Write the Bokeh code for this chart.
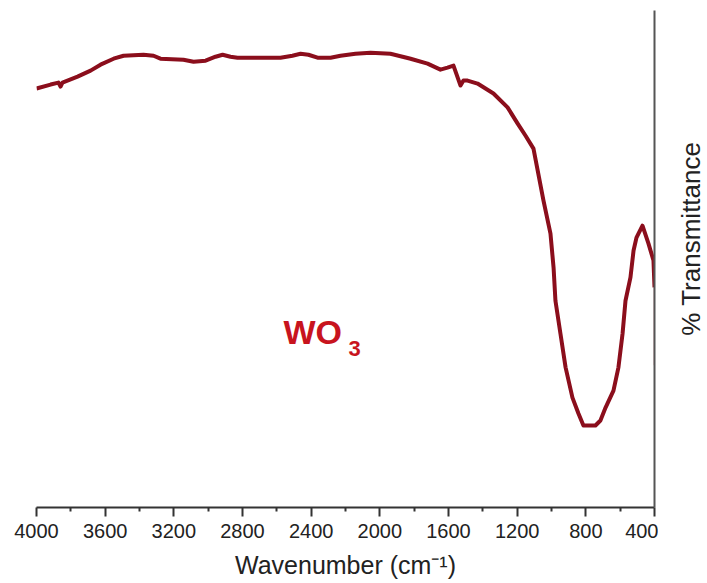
import math
from bokeh.plotting import figure
from bokeh.layouts import row
from bokeh.models import Range1d, Label, FixedTicker
from bokeh.embed import file_html
from bokeh.resources import INLINE

# ---- data ----
wavenumber = [4000, 3918, 3872, 3860, 3849, 3761, 3685, 3627, 3551, 3493, 3377, 3318,
              3278, 3144, 3085, 3015, 2957, 2916, 2870, 2829, 2695, 2579, 2509, 2462,
              2416, 2363, 2287, 2229, 2142, 2054, 1938, 1821, 1722, 1647, 1606, 1571,
              1530, 1513, 1489, 1431, 1338, 1256, 1198, 1151, 1105, 1047, 1006, 988,
              977, 948, 918, 878, 843, 814, 744, 715, 685, 639, 610, 586, 569, 540,
              522, 505, 470, 435, 406, 400]
transmittance = [84.3, 85.1, 85.5, 84.7, 85.5, 86.7, 87.9, 89.1, 90.3, 90.9, 91.1, 90.9,
                 90.3, 90.1, 89.7, 89.9, 90.7, 91.1, 90.7, 90.5, 90.5, 90.5, 90.9, 91.3,
                 91.1, 90.5, 90.5, 90.9, 91.3, 91.5, 91.3, 90.3, 89.3, 88.1, 88.5, 88.9,
                 84.9, 85.9, 85.9, 85.3, 83.3, 80.5, 77.3, 74.8, 72.2, 61.8, 55.1, 48.3,
                 41.6, 35.0, 28.2, 22.1, 18.9, 16.5, 16.5, 17.5, 20.1, 23.5, 28.2, 35.0,
                 41.6, 46.3, 51.7, 54.3, 56.7, 53.1, 49.7, 44.3]
tail_wavenumber = [400, 400]
tail_transmittance = [44.3, 28.6]

major_ticks = [4000, 3600, 3200, 2800, 2400, 2000, 1600, 1200, 800, 400]
minor_ticks = [3800, 3400, 3000, 2600, 2200, 1800, 1400, 1000, 600]

LINE = "#8B0E1C"
TEXT_RED = "#C8141E"
FONT = "Liberation Sans"

p = figure(width=658, height=583,
           x_range=Range1d(4000, 400), y_range=Range1d(0, 100),
           output_backend="svg", toolbar_location=None,
           y_axis_location="right",
           min_border_left=36, min_border_right=4,
           min_border_top=10, min_border_bottom=76)
p.outline_line_color = None
p.xgrid.visible = False
p.ygrid.visible = False
p.background_fill_color = "white"
p.border_fill_color = "white"

p.line(wavenumber, transmittance, line_color=LINE, line_width=4, line_join="round")
p.line(tail_wavenumber, tail_transmittance, line_color="#C9707A", line_width=1.5)

xa = p.xaxis[0]
xa.ticker = FixedTicker(ticks=major_ticks, minor_ticks=minor_ticks)
xa.axis_line_color = "#333333"
xa.axis_line_width = 2
xa.major_tick_line_color = "#333333"
xa.major_tick_line_width = 2
xa.minor_tick_line_color = "#333333"
xa.minor_tick_line_width = 2
xa.major_tick_in = 0
xa.major_tick_out = 9
xa.minor_tick_in = 0
xa.minor_tick_out = 4
xa.major_label_text_font = FONT
xa.major_label_text_font_size = "20px"
xa.major_label_text_color = "#222222"
xa.major_label_standoff = 7
xa.axis_label = "Wavenumber (cm\u207b\u00b9)"
xa.axis_label_text_font = FONT
xa.axis_label_text_font_size = "25px"
xa.axis_label_text_font_style = "normal"
xa.axis_label_text_color = "#222222"
xa.axis_label_standoff = 10

ya = p.yaxis[0]
ya.ticker = FixedTicker(ticks=[])
ya.axis_line_color = "#555555"
ya.axis_line_width = 2
ya.major_tick_out = 0
ya.minor_tick_out = 0
ya.major_tick_in = 0
ya.minor_tick_in = 0

p.add_layout(Label(x=2561, y=35.4, text="WO", text_align="left",
                   text_baseline="middle", text_font=FONT,
                   text_font_size="34px", text_font_style="bold",
                   text_color=TEXT_RED))
p.add_layout(Label(x=2183, y=31.9, text="3", text_align="left",
                   text_baseline="middle", text_font=FONT,
                   text_font_size="22px", text_font_style="bold",
                   text_color=TEXT_RED))

# side strip holding the y-axis title (reads bottom to top, right of the axis line)
q = figure(width=49, height=583, x_range=Range1d(0, 1), y_range=Range1d(0, 1),
           output_backend="svg", toolbar_location=None,
           x_axis_location=None, y_axis_location=None,
           min_border_left=0, min_border_right=0,
           min_border_top=0, min_border_bottom=0)
q.outline_line_color = None
q.xgrid.visible = False
q.ygrid.visible = False
q.background_fill_color = "white"
q.border_fill_color = "white"
q.add_layout(Label(x=0.673, y=0.541, text="% Transmittance", angle=math.pi / 2,
                   text_align="center", text_baseline="middle",
                   text_font=FONT, text_font_size="26px", text_color="#222222"))

layout = row(p, q, spacing=0)
open("out.html", "w").write(file_html(layout, INLINE))
